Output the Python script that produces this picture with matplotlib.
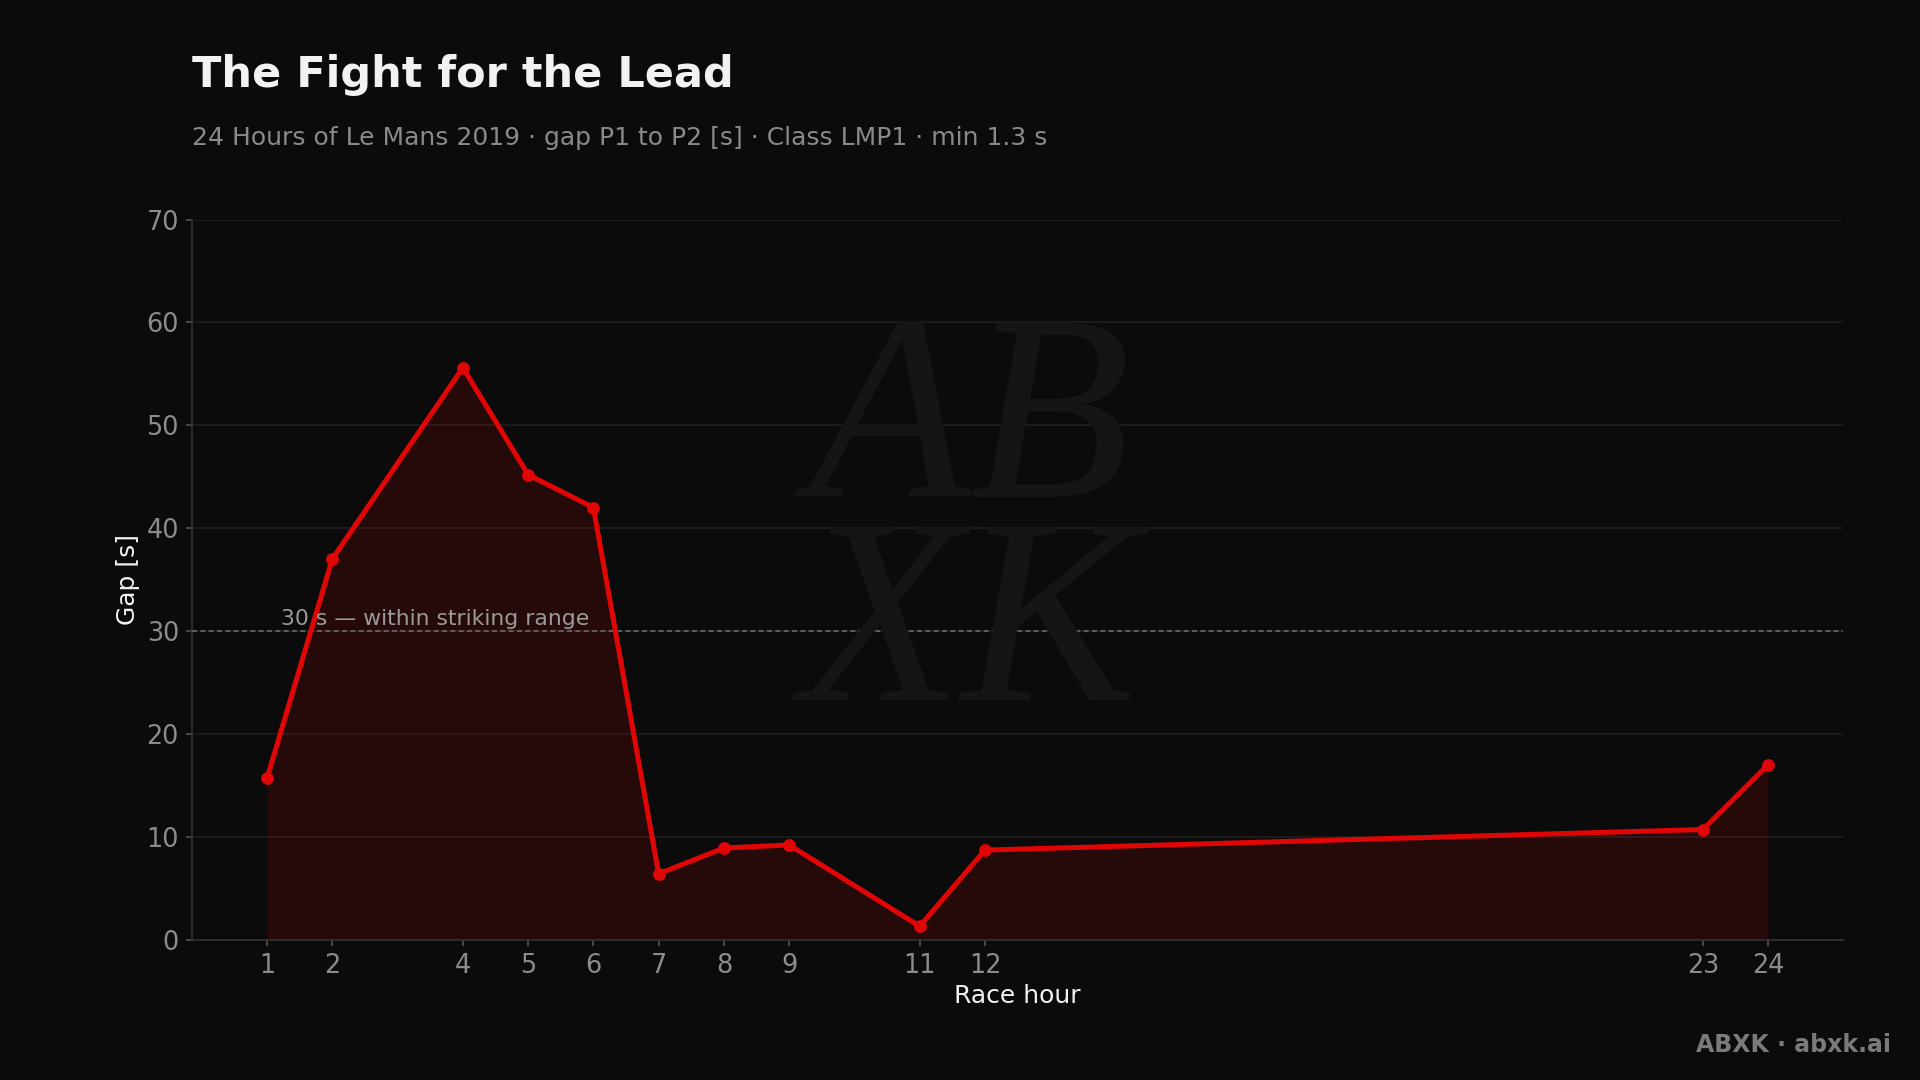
import matplotlib
matplotlib.use("Agg")
import matplotlib.pyplot as plt

# Dark theme constants
BG_COLOR = "#0b0b0b"
RED = "#e00606"
FILL = "#e00606"
GRID = "#1f1f1f"
SPINE = "#333333"
TICK_GREY = "#8c8c8c"
WHITE = "#f2f2f2"

# Data: gap between P1 and P2 at each race hour
hours = [1, 2, 4, 5, 6, 7, 8, 9, 11, 12, 23, 24]
gap_s = [15.7, 37.0, 55.6, 45.2, 42.0, 6.4, 8.9, 9.2, 1.3, 8.7, 10.7, 17.0]
y_ticks = [0, 10, 20, 30, 40, 50, 60, 70]
threshold = 30


def generate_chart():
    fig = plt.figure(figsize=(9.6, 5.4), dpi=200, facecolor=BG_COLOR)
    ax = fig.add_axes([0.1, 0.13, 0.86, 0.6667])
    ax.set_facecolor(BG_COLOR)

    # faint script-like watermark in the middle
    fig.text(0.505, 0.505, "AB\nXK", ha="center", va="center", fontsize=95,
             family="Liberation Serif", style="italic", color="#151515",
             linespacing=0.8, zorder=0)

    ax.fill_between(hours, gap_s, 0, color=FILL, alpha=0.13, linewidth=0, zorder=2)
    ax.plot(hours, gap_s, color=RED, linewidth=1.8, marker="o", markersize=3.6,
            zorder=4)

    ax.axhline(threshold, color="#6a6a6a", linestyle="--", linewidth=0.6,
               dashes=(3, 2), zorder=3)
    ax.text(0.054, threshold + 0.2, "30 s \u2014 within striking range",
            transform=ax.get_yaxis_transform(), color="#9a9a9a", fontsize=7.9,
            va="bottom", ha="left", zorder=5)

    ax.set_ylim(0, 70)
    ax.set_yticks(y_ticks)
    ax.set_xticks(hours)
    ax.margins(x=0.05)
    ax.grid(axis="y", color=GRID, linewidth=0.6, zorder=1)
    ax.set_axisbelow(True)

    for side in ["top", "right"]:
        ax.spines[side].set_visible(False)
    for side in ["left", "bottom"]:
        ax.spines[side].set_color(SPINE)
        ax.spines[side].set_linewidth(0.6)

    ax.tick_params(labelcolor=TICK_GREY, labelsize=9.2, length=2.2, width=0.6,
                   pad=2.5, color="#555555")

    ax.set_xlabel("Race hour", color=WHITE, fontsize=9, labelpad=2)
    ax.set_ylabel("Gap [s]", color=WHITE, fontsize=9, labelpad=2.5)

    fig.text(0.1, 0.931, "The Fight for the Lead", color=WHITE, fontsize=15.5,
             fontweight="bold", ha="left", va="center")
    fig.text(0.1, 0.872,
             "24 Hours of Le Mans 2019 \u00b7 gap P1 to P2 [s] \u00b7 Class LMP1 \u00b7 min 1.3 s",
             color="#8a8a8a", fontsize=9, ha="left", va="center")
    fig.text(0.985, 0.032, "ABXK \u00b7 abxk.ai", color="#7a7a7a", fontsize=8.5,
             fontweight="bold", ha="right", va="center")

    fig.savefig("out.png", facecolor=BG_COLOR, dpi=200)


if __name__ == "__main__":
    generate_chart()
